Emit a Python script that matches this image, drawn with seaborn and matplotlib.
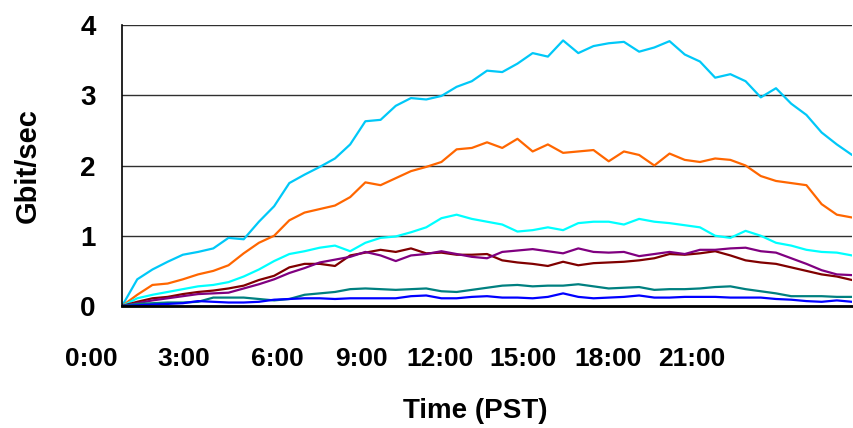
import numpy as np
import pandas as pd
import matplotlib
matplotlib.use("Agg")
import matplotlib.pyplot as plt
import seaborn as sns

# Half-hourly samples, 0:00 .. 24:00 (PST)
hours = np.arange(0, 24.5, 0.5)

sky_blue = [0.0, 0.38, 0.52, 0.63, 0.73, 0.77, 0.82, 0.97, 0.95, 1.2,
            1.42, 1.75, 1.87, 1.98, 2.1, 2.3, 2.63, 2.65, 2.85, 2.96,
            2.94, 2.99, 3.12, 3.2, 3.35, 3.33, 3.45, 3.6, 3.55, 3.78,
            3.6, 3.7, 3.74, 3.76, 3.62, 3.68, 3.77, 3.58, 3.48, 3.25,
            3.3, 3.2, 2.97, 3.1, 2.88, 2.72, 2.47, 2.3, 2.15]
orange = [0.0, 0.16, 0.3, 0.32, 0.38, 0.45, 0.5, 0.58, 0.75, 0.9,
          1.0, 1.22, 1.33, 1.38, 1.43, 1.55, 1.76, 1.72, 1.82, 1.92,
          1.98, 2.05, 2.23, 2.25, 2.33, 2.25, 2.38, 2.2, 2.3, 2.18,
          2.2, 2.22, 2.06, 2.2, 2.15, 2.0, 2.17, 2.08, 2.05, 2.1,
          2.08, 2.0, 1.85, 1.78, 1.75, 1.72, 1.45, 1.3, 1.26]
cyan = [0.0, 0.11, 0.16, 0.2, 0.24, 0.28, 0.3, 0.34, 0.42, 0.52,
        0.64, 0.74, 0.78, 0.83, 0.86, 0.78, 0.9, 0.97, 0.99, 1.05,
        1.12, 1.25, 1.3, 1.24, 1.2, 1.16, 1.06, 1.08, 1.12, 1.08,
        1.18, 1.2, 1.2, 1.16, 1.24, 1.2, 1.18, 1.15, 1.12, 1.0,
        0.97, 1.07, 1.0, 0.9, 0.86, 0.8, 0.77, 0.76, 0.72]
maroon = [0.0, 0.06, 0.11, 0.13, 0.17, 0.2, 0.22, 0.25, 0.29, 0.37,
          0.43, 0.55, 0.6, 0.6, 0.57, 0.72, 0.76, 0.8, 0.77, 0.82,
          0.75, 0.76, 0.73, 0.73, 0.74, 0.65, 0.62, 0.6, 0.57, 0.63,
          0.58, 0.61, 0.62, 0.63, 0.65, 0.68, 0.74, 0.73, 0.75, 0.78,
          0.72, 0.65, 0.62, 0.6, 0.55, 0.5, 0.45, 0.42, 0.37]
purple = [0.0, 0.04, 0.08, 0.11, 0.14, 0.17, 0.18, 0.19, 0.25, 0.31,
          0.38, 0.47, 0.54, 0.62, 0.66, 0.7, 0.77, 0.72, 0.64, 0.72,
          0.74, 0.78, 0.74, 0.7, 0.68, 0.77, 0.79, 0.81, 0.78, 0.75,
          0.82, 0.77, 0.76, 0.77, 0.71, 0.74, 0.77, 0.74, 0.8, 0.8,
          0.82, 0.83, 0.78, 0.76, 0.68, 0.6, 0.51, 0.45, 0.44]
teal = [0.0, 0.03, 0.04, 0.05, 0.05, 0.06, 0.12, 0.12, 0.12, 0.1,
        0.08, 0.1, 0.16, 0.18, 0.2, 0.24, 0.25, 0.24, 0.23, 0.24,
        0.25, 0.21, 0.2, 0.23, 0.26, 0.29, 0.3, 0.28, 0.29, 0.29,
        0.31, 0.28, 0.25, 0.26, 0.27, 0.23, 0.24, 0.24, 0.25, 0.27,
        0.28, 0.24, 0.21, 0.18, 0.14, 0.14, 0.14, 0.13, 0.13]
blue = [0.0, 0.01, 0.02, 0.03, 0.04, 0.07, 0.06, 0.05, 0.05, 0.06,
        0.09, 0.1, 0.11, 0.11, 0.1, 0.11, 0.11, 0.11, 0.11, 0.14,
        0.15, 0.11, 0.11, 0.13, 0.14, 0.12, 0.12, 0.11, 0.13, 0.18,
        0.13, 0.11, 0.12, 0.13, 0.15, 0.12, 0.12, 0.13, 0.13, 0.13,
        0.12, 0.12, 0.12, 0.1, 0.09, 0.07, 0.06, 0.08, 0.06]

series_names = ["s1", "s2", "s3", "s4", "s5", "s6", "s7"]
series_values = [sky_blue, orange, cyan, maroon, purple, teal, blue]
colors = ["#00C8F8", "#FF6600", "#00FFFF", "#800000", "#800080", "#008080", "#0000FF"]

# x tick labels (Excel-style, unevenly spaced); positions are label centres in hours
tick_labels = ["0:00", "3:00", "6:00", "9:00", "12:00", "15:00", "18:00", "21:00"]
tick_label_pos = [-1.02, 2.02, 5.10, 7.86, 10.44, 13.17, 15.99, 18.72]

df = pd.concat([
    pd.DataFrame({"hour": hours, "gbps": vals, "series": name})
    for name, vals in zip(series_names, series_values)
], ignore_index=True)

sns.set_theme(style="white")
plt.rcParams["font.family"] = ["Liberation Sans", "DejaVu Sans"]
plt.rcParams["text.color"] = "black"
plt.rcParams["axes.labelcolor"] = "black"
plt.rcParams["ytick.color"] = "black"

fig, ax = plt.subplots(figsize=(8.54, 4.28), dpi=100)
fig.subplots_adjust(left=0.1429, right=0.9977, bottom=0.285, top=0.9416)

sns.lineplot(data=df, x="hour", y="gbps", hue="series",
             palette=dict(zip(series_names, colors)), linewidth=1.6,
             legend=False, ax=ax)

ax.set_xlim(0, 24)
ax.set_ylim(0, 4)
ax.set_yticks([0, 1, 2, 3, 4])
ax.set_yticklabels(["0", "1", "2", "3", "4"], fontsize=20, fontweight="bold",
                   color="black")
ax.tick_params(axis="y", length=0, pad=19)
ax.set_xticks([])

ax.yaxis.grid(True, color="#303030", linewidth=1.0)
ax.set_axisbelow(True)

for s in ["top", "right"]:
    ax.spines[s].set_visible(False)
ax.spines["left"].set_color("black")
ax.spines["left"].set_linewidth(1.2)
ax.spines["bottom"].set_color("black")
ax.spines["bottom"].set_linewidth(2.0)

for pos, lab in zip(tick_label_pos, tick_labels):
    ax.text(pos, -0.19, lab, transform=ax.get_xaxis_transform(),
            ha="center", va="center", fontsize=19, fontweight="bold",
            color="black", clip_on=False)

ax.set_xlabel("Time (PST)", fontsize=20, fontweight="bold", color="black")
ax.xaxis.label.set_verticalalignment("center")
ax.xaxis.set_label_coords(0.4836, -0.372)
ax.set_ylabel("Gbit/sec", fontsize=21, fontweight="bold", color="black")
ax.yaxis.label.set_verticalalignment("center")
ax.yaxis.set_label_coords(-0.129, 0.5)

plt.savefig("out.png", dpi=100)
